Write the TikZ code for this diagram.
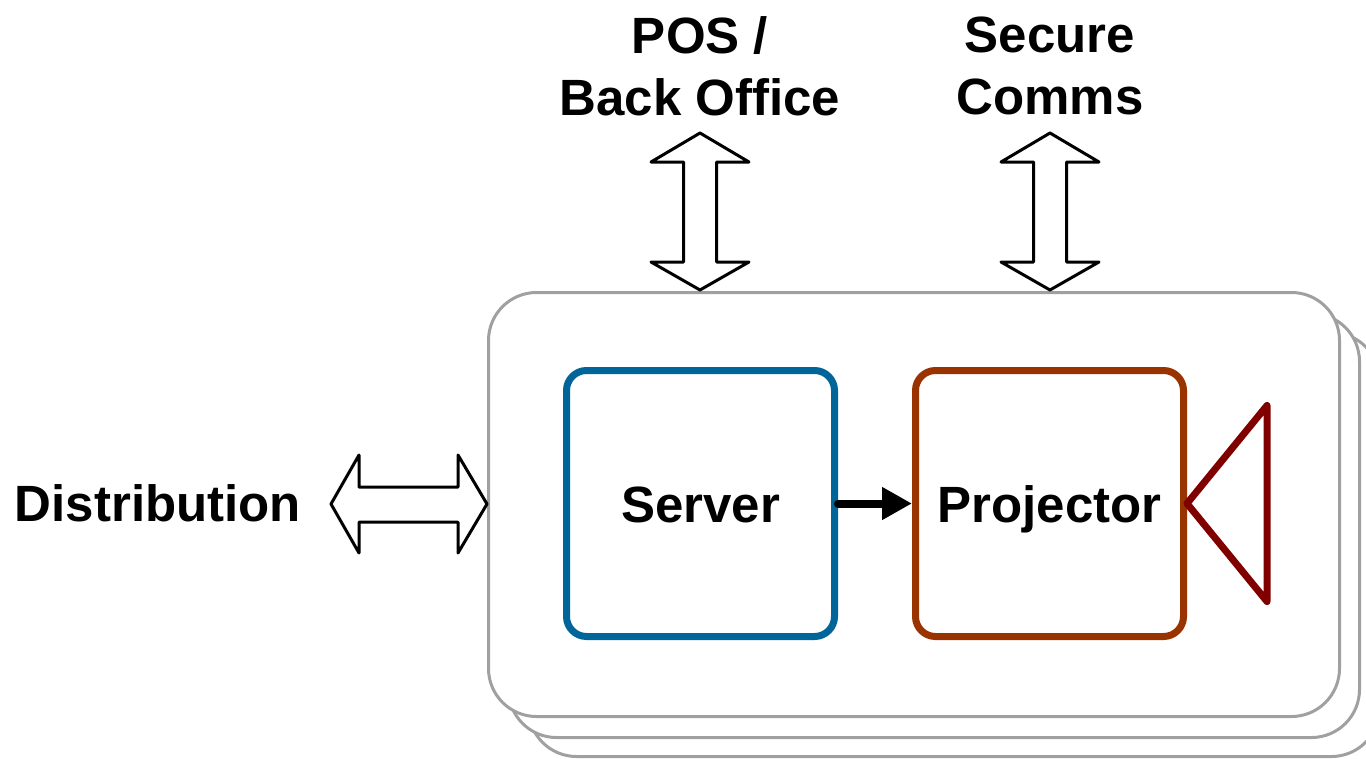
\documentclass[tikz,border=0pt]{standalone}
\usepackage{fontspec}
\setmainfont{Liberation Sans}
\usetikzlibrary{arrows.meta}
\definecolor{srvblue}{RGB}{0,102,153}
\definecolor{projbrown}{RGB}{153,51,0}
\definecolor{camred}{RGB}{128,0,0}
\definecolor{boxgray}{RGB}{160,160,160}
\begin{document}
\begin{tikzpicture}[x=1pt,y=-1pt,
 lbl/.style={font=\fontsize{51}{62}\selectfont\bfseries, align=center, inner sep=0pt},
 stackbox/.style={draw=boxgray, line width=3pt, fill=white, rounded corners=48pt},
 innerbox/.style={line width=7pt, rounded corners=20pt, minimum width=268pt, minimum height=266pt, inner sep=0pt, fill=white, font=\fontsize{51}{62}\selectfont\bfseries, text height=45pt, text depth=8pt},
 bigarrow/.style={draw=black, line width=3pt, fill=white, line join=round}]
\useasboundingbox (0,0) rectangle (1366,758);
\begin{scope}
\clip (0,0) rectangle (1366,758);
\draw[stackbox] (528.5,332.5) rectangle (1379.5,756.5);
\draw[stackbox] (508.5,313.5) rectangle (1359.5,737.5);
\draw[stackbox] (488.5,292.5) rectangle (1339.5,716.5);
\end{scope}

\node[innerbox, draw=srvblue] (srv) at (700.5,503.5) {Server};
\node[innerbox, draw=projbrown] (proj) at (1049.5,503.5) {Projector};
\draw[line width=8pt, line cap=round, -{Triangle[length=30pt,width=31pt]}] (srv.east) -- (proj.west);
\draw[camred, line width=7pt, line join=round, line cap=round] (proj.east) -- ++(80,-98) -- ++(0,196) -- cycle;

\node[lbl] (pos) at (700,66) {POS /\\Back Office};
\node[lbl] (sec) at (1050,66) {Secure\\Comms};
\node[lbl] (dist) at (158,503) {Distribution};

\foreach \cx in {700,1050}{
\draw[bigarrow] (\cx,133) -- ++(49,29) -- ++(-32.5,0) -- ++(0,100) -- ++(32.5,0) -- (\cx,290) -- ++(-49,-28) -- ++(32.5,0) -- ++(0,-100) -- ++(-32.5,0) -- cycle;
}
\draw[bigarrow] (331,504) -- (359,455) -- (359,487) -- (458,487) -- (458,455) -- (487,504) -- (458,553) -- (458,522) -- (359,522) -- (359,553) -- cycle;
\end{tikzpicture}
\end{document}
